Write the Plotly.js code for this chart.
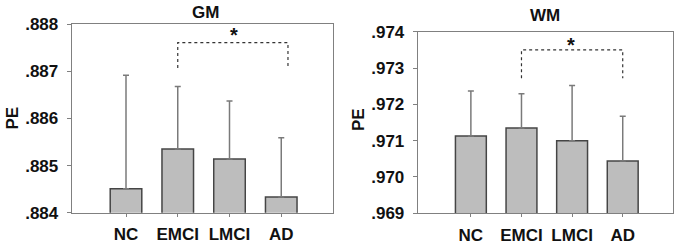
<!DOCTYPE html>
<html><head><meta charset="utf-8">
<script src="https://cdn.plot.ly/plotly-3.0.1.min.js"></script>
<style>html,body{margin:0;padding:0;background:#fff}#chart{width:680px;height:247px}</style>
</head><body><div id="chart"></div>
<script>
const categories = ['NC', 'EMCI', 'LMCI', 'AD'];
const catPos = [0, 1, 2, 3];
const gmValues = [0.88451, 0.88535, 0.88514, 0.88433];
const gmErrors = [0.00241, 0.00133, 0.00123, 0.00126];
const wmValues = [0.97113, 0.97135, 0.97100, 0.97044];
const wmErrors = [0.00124, 0.00094, 0.00152, 0.00123];
const gmTicks = [0.884, 0.885, 0.886, 0.887, 0.888];
const gmTickText = ['.884', '.885', '.886', '.887', '.888'];
const wmTicks = [0.969, 0.970, 0.971, 0.972, 0.973, 0.974];
const wmTickText = ['.969', '.970', '.971', '.972', '.973', '.974'];
const gmBracketX = [1, 1, 3.13, 3.13];
const gmBracketY = [0.88707, 0.88761, 0.88761, 0.88707];
const wmBracketX = [1, 1, 3, 3];
const wmBracketY = [0.97272, 0.97350, 0.97350, 0.97272];
const gmStar = {x: 2.08, y: 0.88778};
const wmStar = {x: 1.97, y: 0.97362};

const FONT = 'Liberation Sans, Arial, sans-serif';
const zeros = [0, 0, 0, 0];

function barTrace(vals, errs, xa, ya) {
  return {
    type: 'bar', x: catPos, y: vals, xaxis: xa, yaxis: ya, width: 0.61,
    marker: {color: '#bdbdbd', line: {color: '#454545', width: 1.5}},
    error_y: {type: 'data', array: errs, arrayminus: zeros, symmetric: false,
              color: '#7a7a7a', thickness: 1.5, width: 3},
    showlegend: false, hoverinfo: 'skip'
  };
}
function bracketTrace(xs, ys, xa, ya) {
  return {type: 'scatter', mode: 'lines', x: xs, y: ys, xaxis: xa, yaxis: ya,
          line: {color: '#333', width: 1.2, dash: 'dot'}, showlegend: false, hoverinfo: 'skip'};
}

const data = [
  barTrace(gmValues, gmErrors, 'x', 'y'),
  barTrace(wmValues, wmErrors, 'x2', 'y2'),
  bracketTrace(gmBracketX, gmBracketY, 'x', 'y'),
  bracketTrace(wmBracketX, wmBracketY, 'x2', 'y2')
];

function xAxis(domain, anchor) {
  return {domain: domain, anchor: anchor, range: [-1.05, 4.0], tickvals: catPos, ticktext: categories,
          showline: true, mirror: true, linecolor: '#808080', linewidth: 1,
          ticks: 'outside', ticklen: 3, tickcolor: '#808080', ticklabelstandoff: 3,
          showgrid: false, zeroline: false,
          tickfont: {family: FONT, size: 17, color: '#111', weight: 'bold'}};
}
function yAxis(domain, anchor, range, tv, tt) {
  return {domain: domain, anchor: anchor, range: range, tickvals: tv, ticktext: tt,
          showline: true, mirror: true, linecolor: '#808080', linewidth: 1,
          ticks: 'outside', ticklen: 4, tickcolor: '#808080', ticklabelstandoff: 5,
          showgrid: false, zeroline: false,
          tickfont: {family: FONT, size: 17, color: '#111', weight: 'bold'}};
}

const layout = {
  width: 680, height: 247, margin: {l: 0, r: 0, t: 0, b: 0},
  paper_bgcolor: '#fff', plot_bgcolor: '#fff', bargap: 0,
  xaxis: xAxis([0.1054, 0.4897], 'y'),
  yaxis: yAxis([0.139, 0.9016], 'x', [0.884, 0.888], gmTicks, gmTickText),
  xaxis2: xAxis([0.6143, 0.9902], 'y2'),
  yaxis2: yAxis([0.1364, 0.8717], 'x2', [0.969, 0.974], wmTicks, wmTickText),
  annotations: [
    {text: 'GM', xref: 'paper', yref: 'paper', x: 206 / 680, y: 1 - 12.7 / 247, showarrow: false,
     xanchor: 'center', yanchor: 'middle', font: {family: FONT, size: 17, color: '#111', weight: 'bold'}},
    {text: 'WM', xref: 'paper', yref: 'paper', x: 545 / 680, y: 1 - 15 / 247, showarrow: false,
     xanchor: 'center', yanchor: 'middle', font: {family: FONT, size: 17, color: '#111', weight: 'bold'}},
    {text: 'PE', xref: 'paper', yref: 'paper', x: 11.5 / 680, y: 1 - 118 / 247, textangle: -90, showarrow: false,
     xanchor: 'center', yanchor: 'middle', font: {family: FONT, size: 17, color: '#111', weight: 'bold'}},
    {text: 'PE', xref: 'paper', yref: 'paper', x: 359 / 680, y: 1 - 120 / 247, textangle: -90, showarrow: false,
     xanchor: 'center', yanchor: 'middle', font: {family: FONT, size: 17, color: '#111', weight: 'bold'}},
    {text: '*', xref: 'x', yref: 'y', x: gmStar.x, y: gmStar.y, showarrow: false,
     xanchor: 'center', yanchor: 'middle', font: {family: FONT, size: 20, color: '#111', weight: 'bold'}},
    {text: '*', xref: 'x2', yref: 'y2', x: wmStar.x, y: wmStar.y, showarrow: false,
     xanchor: 'center', yanchor: 'middle', font: {family: FONT, size: 20, color: '#111', weight: 'bold'}}
  ]
};

Plotly.newPlot('chart', data, layout, {staticPlot: true, displayModeBar: false});
</script>
</body></html>
